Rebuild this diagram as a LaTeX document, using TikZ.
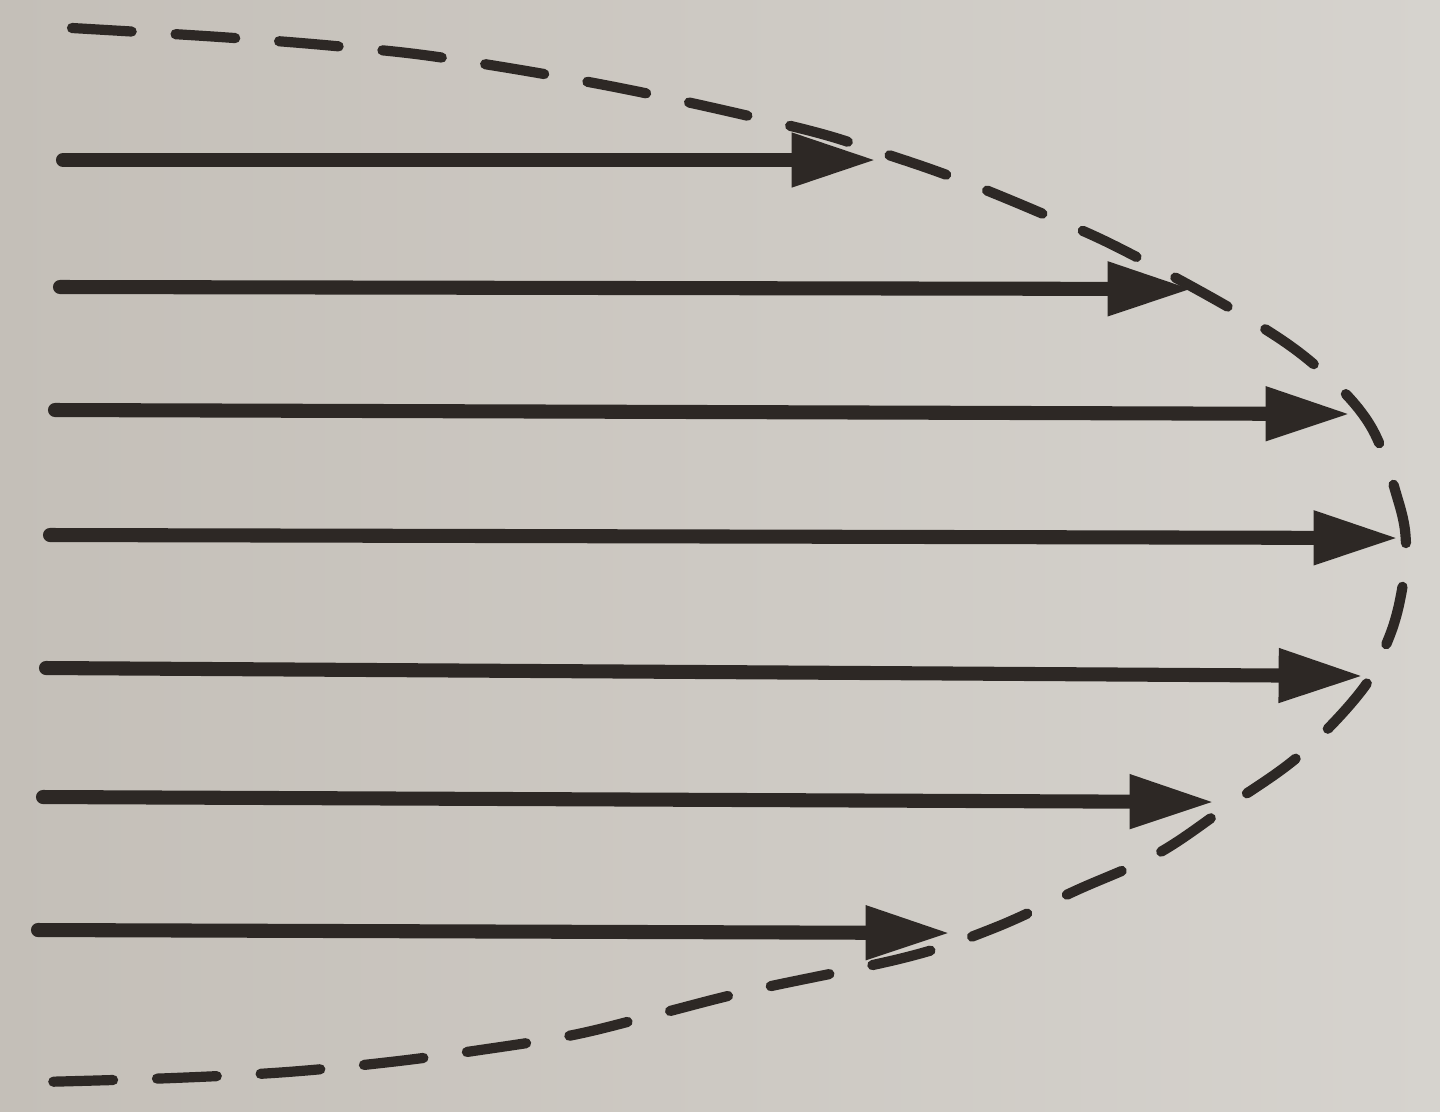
\documentclass[tikz,border=0pt]{standalone}
\usetikzlibrary{arrows.meta}
\definecolor{paperL}{RGB}{196,191,184}
\definecolor{paperR}{RGB}{214,211,206}
\definecolor{ink}{RGB}{45,40,37}
\tikzset{
  flow/.style={line width=4pt, draw=ink, line cap=round,
    -{Triangle[length=24pt,width=14.5pt,fill=ink]}},
  profile/.style={line width=2.9pt, draw=ink, line cap=round,
    dash pattern=on 17pt off 12.5pt}
}
\begin{document}
\begin{tikzpicture}[x=0.01cm,y=-0.01cm]
\shade[left color=paperL,right color=paperR] (0,0) rectangle (1440,1111);
\useasboundingbox (0,0) rectangle (1440,1111);
% start and end points of the velocity arrows
\coordinate (s1) at (63,160);  \coordinate (t1) at (876,160);
\coordinate (s2) at (60,287);  \coordinate (t2) at (1192,289);
\coordinate (s3) at (55,410);  \coordinate (t3) at (1350,414);
\coordinate (s4) at (50,535);  \coordinate (t4) at (1398,538);
\coordinate (s5) at (46,668);  \coordinate (t5) at (1363,676);
\coordinate (s6) at (43,797);  \coordinate (t6) at (1214,802);
\coordinate (s7) at (38,930);  \coordinate (t7) at (950,933);
\foreach \i in {1,...,7}{\draw[flow] (s\i) -- (t\i);}
% dashed velocity profile
\draw[profile] plot[smooth,tension=0.6] coordinates{
 (72,28) (220,37) (335,46) (445,58) (620,88) (795,127) (873,150) (955,178)
 (1048,216) (1125,251) (1247,318) (1317,367) (1370,425) (1398,500)
 (1406,545) (1401,595) (1388,640) (1362,690) (1300,755) (1228,806)
 (1157,854) (1077,890) (994,928) (907,957) (753,990) (658,1014)
 (573,1035) (480,1050) (390,1062) (287,1072) (173,1078) (40,1082)};
\end{tikzpicture}
\end{document}
